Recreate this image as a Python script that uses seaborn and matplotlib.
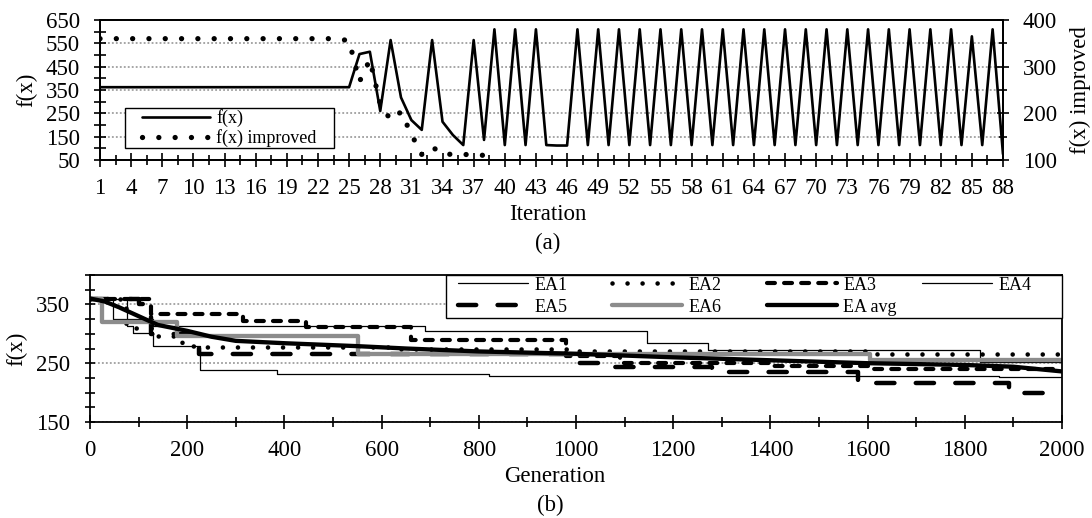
import numpy as np
import pandas as pd
import matplotlib
matplotlib.use("Agg")
import matplotlib.pyplot as plt
import seaborn as sns
from matplotlib.ticker import FixedLocator, MultipleLocator
from matplotlib.legend import Legend
from matplotlib.patches import Rectangle

# ---------------- data: chart (a) ----------------
iterations = list(range(1, 89))
fx = [362, 362, 362, 362, 362, 362, 362, 362, 362, 362,
      362, 362, 362, 362, 362, 362, 362, 362, 362, 362,
      362, 362, 362, 362, 362, 504, 514, 260, 564, 318,
      221, 179, 564, 214, 157, 114, 564, 136, 610, 114,
      610, 114, 610, 114, 112, 112, 610, 114, 610, 114,
      610, 114, 610, 114, 610, 114, 610, 114, 610, 114,
      610, 114, 610, 114, 610, 114, 610, 114, 610, 114,
      610, 114, 610, 114, 610, 114, 610, 114, 610, 114,
      610, 114, 610, 114, 580, 114, 610, 75]
fx_improved = [360, 360, 360, 360, 360, 360, 360, 360, 360, 360,
               360, 360, 360, 360, 360, 360, 360, 360, 360, 360,
               360, 360, 360, 360, 355, 268, 315, 220, 186, 203,
               155, 112, 128, 113, 112, 112, 111, 110]
iteration_tick_labels = [1, 4, 7, 10, 13, 16, 19, 22, 25, 28, 31, 34, 37, 40, 43,
                         46, 49, 52, 55, 58, 61, 64, 67, 70, 73, 76, 79, 82, 85, 88]
fx_left_ticks = [50, 150, 250, 350, 450, 550, 650]
improved_right_ticks = [100, 200, 300, 400]

# ---------------- data: chart (b) ----------------
ea1_gen = [0, 76, 88, 130, 226, 385, 820, 1870, 2000]
ea1_val = [360, 313, 302, 280, 238, 232, 229, 226, 226]
ea2_gen = [0, 75, 130, 190, 215, 640, 990, 1620, 2000]
ea2_val = [360, 310, 297, 280, 277, 275, 271, 266, 266]
ea3_gen = [0, 125, 315, 445, 660, 980, 1090, 1400, 1600, 2000]
ea3_val = [360, 333, 322, 311, 290, 262, 250, 245, 240, 240]
ea4_gen = [0, 48, 130, 690, 1146, 1272, 1832, 2000]
ea4_val = [360, 325, 313, 305, 285, 272, 252, 252]
ea5_gen = [0, 100, 125, 225, 990, 1050, 1280, 1580, 1890, 2000]
ea5_val = [360, 350, 300, 266, 250, 243, 235, 216, 200, 200]
ea6_gen = [0, 24, 178, 552, 1605, 2000]
ea6_val = [360, 320, 296, 265, 256, 256]
avg_gen = [0, 30, 60, 100, 140, 200, 250, 300, 400, 550, 650, 800, 1000,
           1200, 1400, 1600, 1800, 1900, 1950, 2000]
avg_val = [360, 355, 345, 330, 315, 305, 295, 288, 284, 279, 275, 270, 266,
           260, 255, 250, 247, 244, 240, 236]
generation_ticks = [0, 200, 400, 600, 800, 1000, 1200, 1400, 1600, 1800, 2000]
fx_b_ticks = [150, 250, 350]

# ---------------- style ----------------
W, H = 1092, 518
sns.set_theme(style="white")
plt.rcParams["font.family"] = ["Liberation Serif", "DejaVu Serif"]
plt.rcParams["text.color"] = "black"
plt.rcParams["axes.labelcolor"] = "black"
plt.rcParams["axes.edgecolor"] = "black"
plt.rcParams["axes.linewidth"] = 1.3

FS = 16.5
LFS = 13
GRID = dict(color="#8e8e8e", linestyle=(0, (1.2, 1.4)), linewidth=1.1)

fig = plt.figure(figsize=(W / 100, H / 100), dpi=100)


def px_axes(l, t, r, b):
    return fig.add_axes([l / W, 1 - b / H, (r - l) / W, (b - t) / H])


def fig_xy(x, y):
    return (x / W, 1 - y / H)


def add_entry(ax, handle, label, x, y, hl_px):
    lg = Legend(ax, [handle], [label], loc="center left",
                bbox_to_anchor=fig_xy(x, y), bbox_transform=fig.transFigure,
                frameon=False, fontsize=LFS, borderpad=0, borderaxespad=0,
                handlelength=hl_px / (LFS * 100 / 72), handletextpad=0.35)
    ax.add_artist(lg)


def add_frame(ax, l, t, r, b):
    x0, y0 = fig_xy(l, b)
    rect = Rectangle((x0, y0), (r - l) / W, (b - t) / H, transform=fig.transFigure,
                     facecolor="white", edgecolor="black", linewidth=1.0,
                     zorder=4.9, clip_on=False)
    ax.add_patch(rect)


ax1 = px_axes(100, 20, 1003, 160)
ax1r = ax1.twinx()
ax2 = px_axes(90, 275, 1062, 422)

# ---------------- chart (a) ----------------
df_a = pd.DataFrame({"Iteration": iterations, "f(x)": fx})
sns.lineplot(data=df_a, x="Iteration", y="f(x)", ax=ax1, color="black",
             linewidth=1.9, errorbar=None, legend=False)
df_ai = pd.DataFrame({"Iteration": iterations[:len(fx_improved)],
                      "f(x) improved": fx_improved})
sns.lineplot(data=df_ai, x="Iteration", y="f(x) improved", ax=ax1r, color="black",
             linewidth=3.8, linestyle=(0, (0.01, 3.08)), dash_capstyle="round",
             errorbar=None, legend=False)

ax1.set_xlim(1, 88)
ax1.set_ylim(50, 650)
ax1r.set_ylim(100, 400)
ax1.xaxis.set_major_locator(FixedLocator(iteration_tick_labels))
ax1.set_xticklabels([str(v) for v in iteration_tick_labels])
ax1.xaxis.set_minor_locator(FixedLocator(np.arange(2.5, 88, 3)))
ax1.yaxis.set_major_locator(FixedLocator(fx_left_ticks))
ax1.yaxis.set_minor_locator(MultipleLocator(50))
ax1r.yaxis.set_major_locator(FixedLocator(improved_right_ticks))
ax1r.yaxis.set_minor_locator(MultipleLocator(50))

ax1.tick_params(axis="x", which="major", direction="inout", length=10, width=1.2,
                labelsize=FS, pad=8, bottom=True, top=False, color="black", labelcolor="black")
ax1.tick_params(axis="x", which="minor", direction="inout", length=6.5, width=1.2,
                bottom=True, top=False, color="black")
ax1.tick_params(axis="y", which="major", direction="inout", length=8.6, width=1.2,
                labelsize=FS, pad=10, left=True, right=False, color="black", labelcolor="black")
ax1.tick_params(axis="y", which="minor", direction="inout", length=8.6, width=1.2,
                left=True, right=False, color="black")
ax1r.tick_params(axis="y", which="major", direction="inout", length=8.6, width=1.2,
                 labelsize=FS, pad=10, right=True, left=False, color="black", labelcolor="black")
ax1r.tick_params(axis="y", which="minor", direction="inout", length=6, width=1.2,
                 right=True, left=False, color="black")

ax1.set_axisbelow(True)
ax1.yaxis.grid(True, which="major", **GRID)

ax1.set_xlabel("Iteration", fontsize=FS)
ax1.xaxis.label.set_verticalalignment("center")
ax1.xaxis.set_label_coords((548 - 100) / 903, (160 - 214) / 140)
ax1.set_ylabel("f(x)", fontsize=FS)
ax1.yaxis.label.set_verticalalignment("center")
ax1.yaxis.set_label_coords((27 - 100) / 903, 0.5)
ax1r.set_ylabel("f(x) improved", fontsize=FS, rotation=90)
ax1r.yaxis.label.set_verticalalignment("center")
ax1r.yaxis.set_label_coords((1080 - 100) / 903, 0.5)

h1 = ax1.get_lines()[0]
h2 = ax1r.get_lines()[0]
add_frame(ax1r, 125, 108, 334, 148)
add_entry(ax1r, h1, "f(x)", 142, 118, 68)
add_entry(ax1r, h2, "f(x) improved", 142, 138, 68)

# ---------------- chart (b) ----------------
series = [
    ("EA1", ea1_gen, ea1_val, dict(color="black", linewidth=0.9), "steps-post"),
    ("EA2", ea2_gen, ea2_val, dict(color="black", linewidth=3.3, linestyle=(0, (0.01, 3.27)),
                                   dash_capstyle="round"), "steps-post"),
    ("EA3", ea3_gen, ea3_val, dict(color="black", linewidth=3.0, linestyle=(0, (1.9, 2.2)),
                                   dash_capstyle="round"), "steps-post"),
    ("EA4", ea4_gen, ea4_val, dict(color="black", linewidth=0.9), "steps-post"),
    ("EA5", ea5_gen, ea5_val, dict(color="black", linewidth=3.2, linestyle=(0, (4.1, 4.8)),
                                   dash_capstyle="round"), "steps-post"),
    ("EA6", ea6_gen, ea6_val, dict(color="#8c8c8c", linewidth=3.1), "steps-post"),
    ("EA avg", avg_gen, avg_val, dict(color="black", linewidth=3.1), "default"),
]
for name, g, v, st, ds in series:
    d = pd.DataFrame({"Generation": g, "f(x)": v})
    sns.lineplot(data=d, x="Generation", y="f(x)", ax=ax2, drawstyle=ds,
                 errorbar=None, legend=False, **st)

ax2.set_xlim(0, 2000)
ax2.set_ylim(150, 400)
ax2.xaxis.set_major_locator(FixedLocator(generation_ticks))
ax2.set_xticklabels([str(v) for v in generation_ticks])
ax2.xaxis.set_minor_locator(MultipleLocator(100))
ax2.yaxis.set_major_locator(FixedLocator(fx_b_ticks))
ax2.yaxis.set_minor_locator(MultipleLocator(25))
ax2.tick_params(axis="x", which="major", direction="inout", length=9.4, width=1.2,
                labelsize=FS, pad=8.3, bottom=True, top=False, color="black", labelcolor="black")
ax2.tick_params(axis="x", which="minor", direction="inout", length=7.2, width=1.2,
                bottom=True, top=False, color="black")
ax2.tick_params(axis="y", which="major", direction="inout", length=7.2, width=1.2,
                labelsize=FS, pad=10.5, left=True, right=False, color="black", labelcolor="black")
ax2.tick_params(axis="y", which="minor", direction="inout", length=7.2, width=1.2,
                left=True, right=False, color="black")
ax2.set_axisbelow(True)
ax2.yaxis.grid(True, which="major", **GRID)

ax2.set_xlabel("Generation", fontsize=FS)
ax2.xaxis.label.set_verticalalignment("center")
ax2.xaxis.set_label_coords((555 - 90) / 972, (422 - 477) / 147)
ax2.set_ylabel("f(x)", fontsize=FS)
ax2.yaxis.label.set_verticalalignment("center")
ax2.yaxis.set_label_coords((17 - 90) / 972, 0.5)

lines = ax2.get_lines()
add_frame(ax2, 446, 275, 1062, 318)
col_x = [458, 612, 767, 922]
row_y = [285, 307]
slots = [(0, 0), (1, 0), (2, 0), (3, 0), (0, 1), (1, 1), (2, 1)]  # EA1..EA4, EA5, EA6, EA avg
for (name, *_), line, (c, r) in zip(series, lines, slots):
    add_entry(ax2, line, name, col_x[c], row_y[r], 70)

fig.text(548 / W, 1 - 243 / H, "(a)", ha="center", va="center", fontsize=FS)
fig.text(550 / W, 1 - 505 / H, "(b)", ha="center", va="center", fontsize=FS)

fig.savefig("out.png", dpi=100, facecolor="white")
